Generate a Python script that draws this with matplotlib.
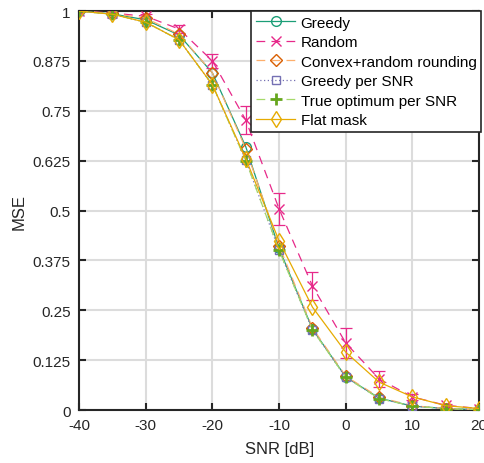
import numpy as np
import matplotlib
matplotlib.use("Agg")
import matplotlib.pyplot as plt

plt.rcParams["font.family"] = ["Liberation Sans", "DejaVu Sans"]
plt.rcParams["axes.unicode_minus"] = False

# ---- data ----
snr = [-40, -35, -30, -25, -20, -15, -10, -5, 0, 5, 10, 15, 20]

greedy      = [1.0, 0.993, 0.978, 0.940, 0.845, 0.660, 0.405, 0.203, 0.083, 0.030, 0.010, 0.004, 0.001]
random_m    = [1.0, 0.995, 0.987, 0.955, 0.875, 0.727, 0.504, 0.311, 0.168, 0.078, 0.033, 0.012, 0.004]
random_err  = [0.002, 0.003, 0.005, 0.010, 0.018, 0.034, 0.040, 0.035, 0.038, 0.020, 0.008, 0.004, 0.002]
convex      = [1.0, 0.994, 0.982, 0.942, 0.845, 0.655, 0.412, 0.206, 0.085, 0.032, 0.011, 0.004, 0.001]
greedy_snr  = [1.0, 0.992, 0.972, 0.928, 0.815, 0.626, 0.400, 0.201, 0.082, 0.029, 0.010, 0.004, 0.001]
true_opt    = [1.0, 0.992, 0.972, 0.928, 0.815, 0.625, 0.400, 0.201, 0.082, 0.029, 0.010, 0.004, 0.001]
flat_mask   = [1.0, 0.992, 0.972, 0.928, 0.815, 0.630, 0.424, 0.258, 0.145, 0.070, 0.033, 0.011, 0.004]

ytick_vals = [0, 0.125, 0.25, 0.375, 0.5, 0.625, 0.75, 0.875, 1]
ytick_labels = ["0", "0.125", "0.25", "0.375", "0.5", "0.625", "0.75", "0.875", "1"]
xtick_vals = [-40, -30, -20, -10, 0, 10, 20]

fig = plt.figure(figsize=(4.85, 4.64), dpi=100)
ax = fig.add_axes([0.163, 0.114, 0.825, 0.86])

ms = 7
h1, = ax.plot(snr, greedy, color="#1b9e77", lw=0.9, marker="o", ms=ms, mfc="none", mew=1.0,
              label="Greedy", zorder=3)
ax.errorbar(snr, random_m, yerr=random_err, fmt="none", ecolor="#e7298a",
            capsize=4, elinewidth=0.9, capthick=0.9, zorder=3)
h2, = ax.plot(snr, random_m, color="#e7298a", lw=0.9, ls=(0, (7, 5)), marker="x", ms=ms,
              mew=1.0, label="Random", zorder=3)
h3, = ax.plot(snr, convex, color="#fdae6b", lw=0.9, ls=(0, (7, 5)), marker="D", ms=6,
              mfc="none", mec="#d95f02", mew=1.0, label="Convex+random rounding", zorder=3)
h4, = ax.plot(snr, greedy_snr, color="#7570b3", lw=0.9, ls=(0, (1, 2)), marker="s", ms=6,
              mfc="none", mew=1.0, label="Greedy per SNR", zorder=3)
h5, = ax.plot(snr, true_opt, color="#a6d96a", lw=0.9, ls=(0, (7, 5)), marker="+", ms=9,
              mec="#66a61e", mew=2.0, label="True optimum per SNR", zorder=3)
h6, = ax.plot(snr, flat_mask, color="#e6ab02", lw=0.9, marker="d", ms=8, mfc="none",
              mew=1.0, label="Flat mask", zorder=3)

ax.set_xlim(-40, 20)
ax.set_ylim(0, 1)
ax.set_xticks(xtick_vals)
ax.set_yticks(ytick_vals)
ax.set_yticklabels(ytick_labels)
ax.grid(True, color="#dcdcdc", lw=1.5)
ax.set_axisbelow(True)
for s in ax.spines.values():
    s.set_linewidth(1.5)
    s.set_color("#262626")
ax.tick_params(direction="in", top=True, right=True, length=5, width=1.5,
               labelsize=11, colors="#262626", pad=6)
ax.set_xlabel("SNR [dB]", fontsize=12, color="#262626", labelpad=6)
ax.set_ylabel("MSE", fontsize=12, color="#262626")

leg = ax.legend(handles=[h1, h2, h3, h4, h5, h6], loc="upper right", fontsize=11,
                frameon=True, fancybox=False, borderaxespad=0.0, handlelength=2.6,
                handletextpad=0.35, labelspacing=0.36, borderpad=0.3,
                bbox_to_anchor=(1.005, 1.0))
leg.get_frame().set_edgecolor("#262626")
leg.get_frame().set_linewidth(1.2)
leg.get_frame().set_alpha(1)

fig.savefig("out.png", dpi=100)
